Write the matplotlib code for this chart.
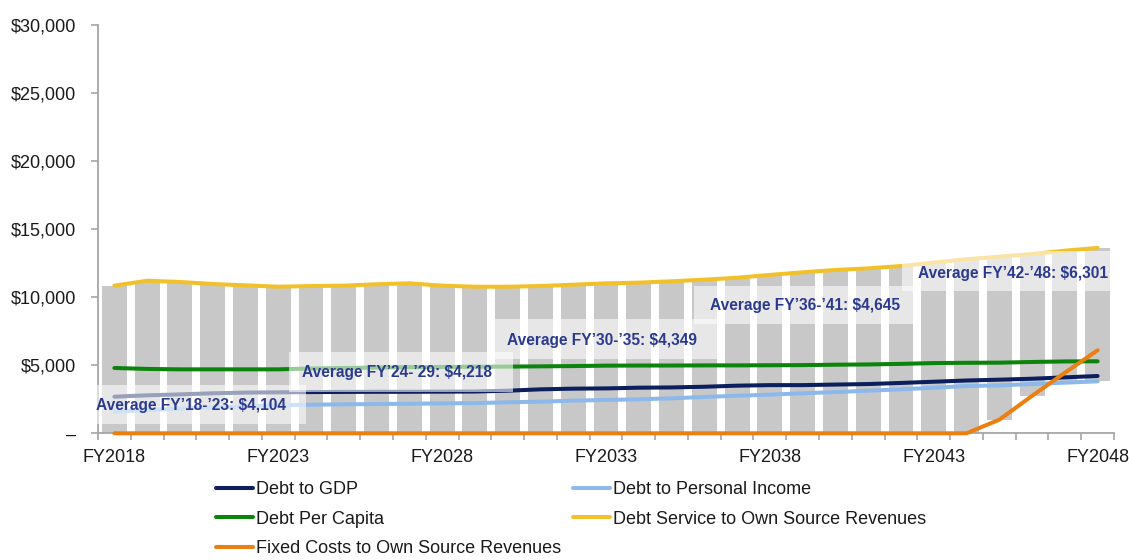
import matplotlib
matplotlib.use("Agg")
import matplotlib.pyplot as plt
from matplotlib.patches import Rectangle
import numpy as np

plt.rcParams['font.family'] = ['Liberation Sans', 'DejaVu Sans']

# ---------------- data ----------------
years = ["FY2018", "FY2019", "FY2020", "FY2021", "FY2022", "FY2023", "FY2024", "FY2025",
         "FY2026", "FY2027", "FY2028", "FY2029", "FY2030", "FY2031", "FY2032", "FY2033",
         "FY2034", "FY2035", "FY2036", "FY2037", "FY2038", "FY2039", "FY2040", "FY2041",
         "FY2042", "FY2043", "FY2044", "FY2045", "FY2046", "FY2047", "FY2048"]

debt_to_gdp = [2690, 2790, 2860, 2940, 2990, 3010, 3030, 3040, 3050, 3050, 3060,
               3070, 3130, 3230, 3280, 3300, 3350, 3370, 3420, 3500, 3540,
               3540, 3580, 3620, 3700, 3790, 3880, 3940, 4010, 4110, 4210]

debt_to_personal_income = [1590, 1710, 1810, 1910, 1980, 2060, 2100, 2130, 2150, 2170, 2200,
                           2220, 2280, 2320, 2400, 2450, 2500, 2570, 2670, 2760, 2840,
                           2940, 3030, 3130, 3230, 3350, 3470, 3520, 3620, 3720, 3820]

debt_per_capita = [4800, 4730, 4700, 4700, 4700, 4700, 4760, 4800, 4830, 4860, 4870,
                   4890, 4900, 4920, 4940, 4970, 4980, 4980, 4990, 4990, 5000,
                   5010, 5040, 5060, 5100, 5160, 5180, 5190, 5240, 5280, 5290]

debt_service_to_osr = [10850, 11210, 11120, 10970, 10870, 10770, 10820, 10850, 10950, 11020, 10850,
                       10770, 10770, 10820, 10920, 11020, 11070, 11170, 11290, 11430, 11640,
                       11830, 12000, 12120, 12290, 12540, 12790, 12980, 13170, 13420, 13620]

fixed_costs_to_osr = [0, 0, 0, 0, 0, 0, 0, 0, 0, 0, 0,
                      0, 0, 0, 0, 0, 0, 0, 0, 0, 0,
                      0, 0, 0, 0, 0, 0, 1000, 2750, 4450, 6100]

series_names = ["Debt to GDP", "Debt to Personal Income", "Debt Per Capita",
                "Debt Service to Own Source Revenues", "Fixed Costs to Own Source Revenues"]

xtick_labels = ["FY2018", "FY2023", "FY2028", "FY2033", "FY2038", "FY2043", "FY2048"]
ytick_values = [0, 5000, 10000, 15000, 20000, 25000, 30000]
ytick_labels = ["\u2013", "$5,000", "$10,000", "$15,000", "$20,000", "$25,000", "$30,000"]

avg_labels = ["Average FY\u201918-\u201923: $4,104",
              "Average FY\u201924-\u201929: $4,218",
              "Average FY\u201930-\u201935: $4,349",
              "Average FY\u201936-\u201941: $4,645",
              "Average FY\u201942-\u201948: $6,301"]

# ---------------- layout / style ----------------
colors = ["#0B1F5E", "#8DB8EC", "#0A840A", "#F2C12A", "#EA7F12"]
# annotation boxes: (x0, x1, y0, y1) in data units, text centre (x, y)
box_geom = [(-0.93, 5.85, 660, 3550, 2.34, 2030),
            (5.33, 12.15, 3060, 5970, 8.61, 4453),
            (11.61, 18.38, 5460, 8400, 14.88, 6855),
            (17.70, 24.58, 8010, 10845, 21.07, 9375),
            (24.03, 30.81, 10480, 13420, 27.42, 11756)]

W, H = 1129, 560
fig = plt.figure(figsize=(W / 100, H / 100), dpi=100)
ax = fig.add_axes([98 / W, 1 - 433.3 / H, (1114 - 98) / W, (433.3 - 25) / H])

x = np.arange(len(years))
all_series = np.array([debt_to_gdp, debt_to_personal_income, debt_per_capita,
                       debt_service_to_osr, fixed_costs_to_osr], dtype=float)
low = all_series.min(axis=0)
high = all_series.max(axis=0)

ax.bar(x, high - low, bottom=low, width=0.76, color="#C8C8C8", zorder=1, linewidth=0)

handles = []
for vals, name, c in zip(all_series, series_names, colors):
    ln, = ax.plot(x, vals, color=c, lw=2.9, zorder=3, solid_capstyle='round',
                  solid_joinstyle='round', label=name, clip_on=False)
    handles.append(ln)

for (x0, x1, y0, y1, tx, ty), lab in zip(box_geom, avg_labels):
    r = Rectangle((x0, y0), x1 - x0, y1 - y0, facecolor="white", alpha=0.58,
                  edgecolor="none", zorder=4, clip_on=False)
    ax.add_patch(r)
    ax.text(tx, ty, lab, ha="center", va="center", fontsize=11.2, fontweight="bold",
            color="#2B3A8F", zorder=5, clip_on=False)

ax.set_xlim(-0.5, len(years) - 0.5)
ax.set_ylim(0, 30000)

# x axis: ticks at category boundaries, labels every 5 years
ax.set_xticks(np.arange(-0.5, len(years), 1.0))
ax.set_xticklabels([])
ax.tick_params(axis="x", which="major", length=5, width=1.2, color="#A6A6A6", direction="out")
lab_pos = [years.index(l) for l in xtick_labels]
ax.set_xticks(lab_pos, minor=True)
ax.set_xticklabels(xtick_labels, minor=True)
ax.tick_params(axis="x", which="minor", length=0, pad=11.5, labelsize=13, labelcolor="#1A1A1A")

ax.set_yticks(ytick_values)
ax.set_yticklabels(ytick_labels)
ax.tick_params(axis="y", length=5, width=1.2, color="#A6A6A6", pad=11,
               labelsize=13, labelcolor="#1A1A1A")

for s in ["top", "right"]:
    ax.spines[s].set_visible(False)
for s in ["left", "bottom"]:
    ax.spines[s].set_color("#A6A6A6")
    ax.spines[s].set_linewidth(1.3)
    ax.spines[s].set_zorder(2)

order = [0, 2, 4, 1, 3]
leg = fig.legend([handles[i] for i in order], [series_names[i] for i in order],
                 ncol=2, loc="upper left", bbox_to_anchor=(216 / W, 1 - 481.5 / H),
                 frameon=False, fontsize=13, handlelength=2.05, handletextpad=0.17,
                 columnspacing=0.67, labelspacing=0.68, borderpad=0, borderaxespad=0)
for t in leg.get_texts():
    t.set_color("#1A1A1A")

fig.savefig("out.png", dpi=100)
